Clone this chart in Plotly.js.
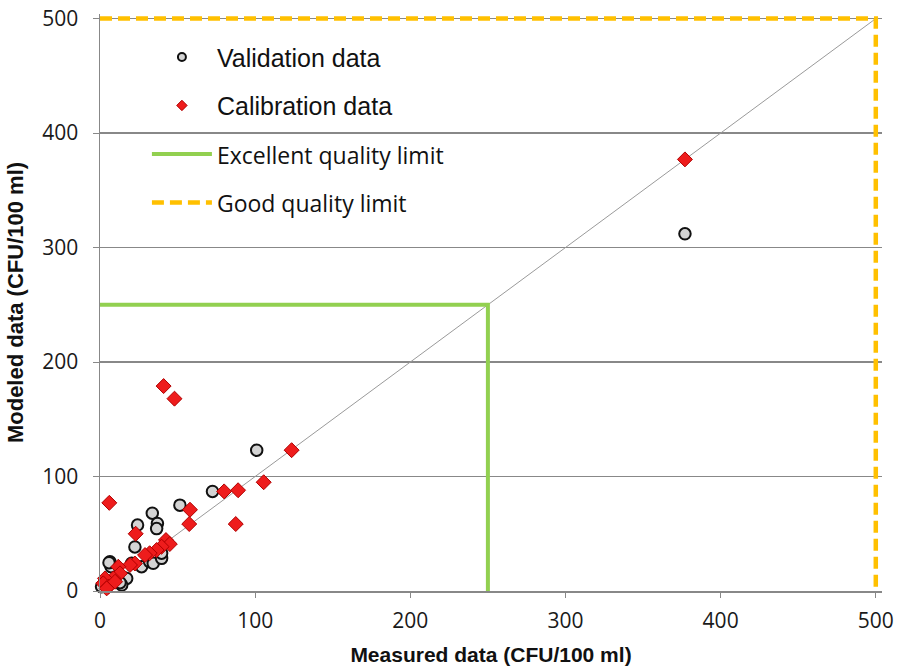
<!DOCTYPE html>
<html>
<head>
<meta charset="utf-8">
<script src="https://cdn.plot.ly/plotly-3.0.1.min.js"></script>
<style>html,body{margin:0;padding:0;background:#fff;}#chart{width:897px;height:670px;}</style>
</head>
<body>
<div id="chart"></div>
<script>
// Validation data (measured, modeled)
var validationX = [377, 101, 72.5, 51.5, 33.7, 37, 36.5, 24.2, 22.5, 6.4, 7.1, 20.4, 26.8, 32, 34.3, 39.7, 39.7, 17.2, 14, 1, 5.8, 12.9];
var validationY = [312, 123, 87, 75, 68, 59, 54.5, 57.6, 38.5, 25.6, 21.2, 24.2, 21.2, 25.6, 24.2, 28.5, 33, 11, 5.2, 3.8, 24.7, 7.3];

// Calibration data (measured, modeled)
var calibrationX = [377, 41, 48, 6, 123.5, 105.5, 89, 80, 87.5, 58, 57.5, 23, 42.5, 45, 39.7, 36.5, 32, 29, 22.5, 19.3, 11.8, 12.9, 8.6, 3.2, 2.1, 5.4, 9.7, 4.3];
var calibrationY = [377, 179, 168, 77, 123, 95, 88, 87, 58.5, 71, 58.5, 50, 44.5, 41, 38.7, 35.8, 33, 31.4, 24, 22.7, 21.2, 15.4, 11, 11, 6.7, 3.8, 8.1, 2.3];

// 1:1 line
var diagX = [0, 500];
var diagY = [0, 500];

// Quality limits
var excellentX = [0, 250, 250];
var excellentY = [250, 250, 0];
var goodX = [0, 500, 500];
var goodY = [500, 500, 0];

var yTicks = [0, 100, 200, 300, 400, 500];
var xTicks = [0, 100, 200, 300, 400, 500];

var traces = [
  {x: diagX, y: diagY, mode: 'lines', line: {color: '#9a9a9a', width: 1}, showlegend: false, hoverinfo: 'skip'},
  {x: excellentX, y: excellentY, mode: 'lines', line: {color: '#92d050', width: 4}, showlegend: false},
  {x: goodX, y: goodY, mode: 'lines', line: {color: '#ffc000', width: 4.5, dash: '12px,6px'}, showlegend: false},
  {x: validationX, y: validationY, mode: 'markers', cliponaxis: false,
   marker: {symbol: 'circle', size: 11.5, color: '#d4d4d4', line: {color: '#111', width: 2}}, showlegend: false},
  {x: calibrationX, y: calibrationY, mode: 'markers', cliponaxis: false,
   marker: {symbol: 'diamond', size: 11.5, color: '#ee1c1c', line: {color: '#b00000', width: 1}}, showlegend: false},
  // legend entries
  {x: [null], y: [null], mode: 'markers', name: 'Validation data', legendgroup: 'a',
   marker: {symbol: 'circle', size: 8, color: '#d4d4d4', line: {color: '#111', width: 2}}},
  {x: [null], y: [null], mode: 'markers', name: 'Calibration data', legendgroup: 'b',
   marker: {symbol: 'diamond', size: 8, color: '#ee1c1c', line: {color: '#b00000', width: 1}}},
  {x: [null], y: [null], mode: 'lines', name: '<span style="font-family:Open Sans;font-size:23px">Excellent quality limit</span>', legendgroup: 'c',
   line: {color: '#92d050', width: 4}},
  {x: [null], y: [null], mode: 'lines', name: '<span style="font-family:Open Sans;font-size:23px">Good quality limit</span>', legendgroup: 'd',
   line: {color: '#ffc000', width: 4.5, dash: '12px,6px'}}
];

var layout = {
  width: 897, height: 670,
  margin: {l: 100, r: 15, t: 14, b: 79, pad: 0},
  paper_bgcolor: '#ffffff', plot_bgcolor: '#ffffff',
  showlegend: true,
  legend: {
    x: 0.06, y: 0.965, xanchor: 'left', yanchor: 'top',
    bgcolor: 'rgba(0,0,0,0)', borderwidth: 0,
    font: {family: 'Liberation Sans, Arial, sans-serif', size: 25, color: '#111'},
    itemwidth: 60, tracegroupgap: 13, traceorder: 'grouped'
  },
  xaxis: {
    range: [0, 504], tickvals: xTicks, ticktext: xTicks.map(String),
    showgrid: false, zeroline: false, showline: true, linecolor: '#888', linewidth: 1.5,
    ticks: 'outside', ticklen: 5, tickcolor: '#888', ticklabelstandoff: 5,
    tickfont: {family: 'Open Sans, sans-serif', size: 21, color: '#1a1a1a'},
    title: {text: 'Measured data (CFU/100 ml)', font: {family: 'Liberation Sans, Arial, sans-serif', size: 21, color: '#111', weight: 'bold'}, standoff: 14}
  },
  yaxis: {
    range: [0, 504], tickvals: yTicks, ticktext: yTicks.map(String),
    showgrid: true, gridcolor: '#888', gridwidth: 1.2, zeroline: false,
    showline: true, linecolor: '#888', linewidth: 1.5,
    ticks: 'outside', ticklen: 6, tickcolor: '#888', ticklabelstandoff: 10,
    tickfont: {family: 'Open Sans, sans-serif', size: 21, color: '#1a1a1a'},
    title: {text: 'Modeled data (CFU/100 ml)', font: {family: 'Liberation Sans, Arial, sans-serif', size: 22, color: '#111', weight: 'bold'}, standoff: 12}
  }
};

Plotly.newPlot('chart', traces, layout, {staticPlot: true, displayModeBar: false});
</script>
</body>
</html>
